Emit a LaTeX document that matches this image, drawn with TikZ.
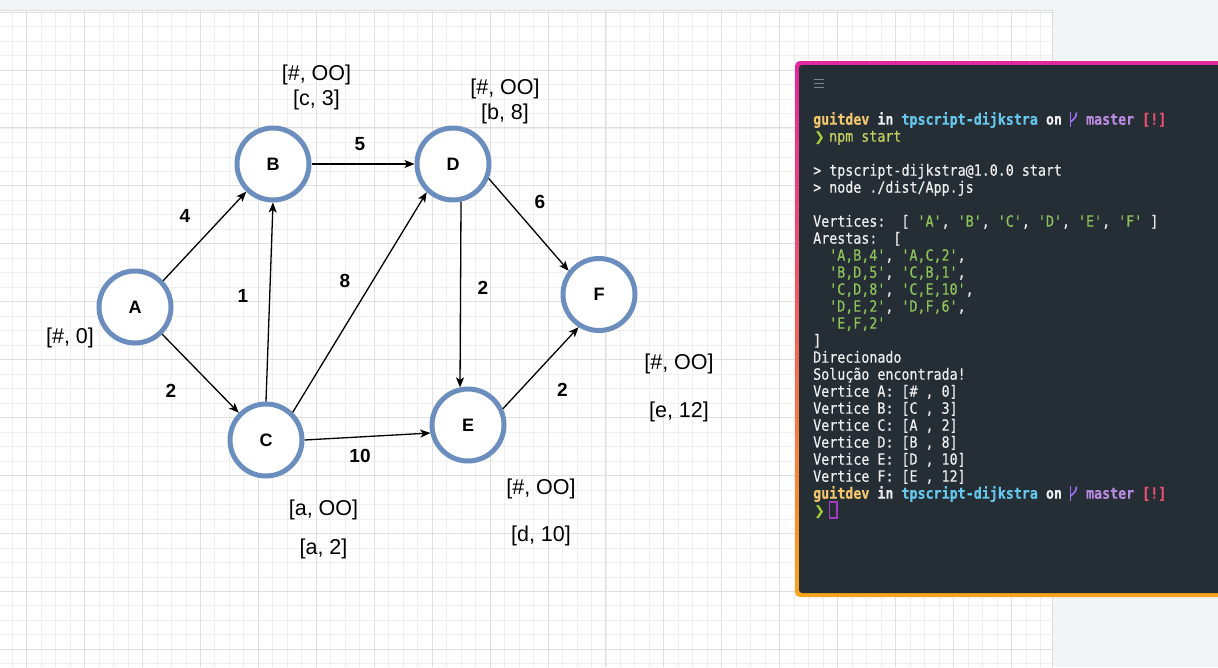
\documentclass[tikz,border=0pt]{standalone}
\usepackage{fontspec}
\setmonofont{DejaVu Sans Mono}[FakeStretch=0.86, FakeBold=0.4]
\newfontfamily\arial{Liberation Sans}
\newfontfamily\symfont{DejaVu Sans}
\usetikzlibrary{arrows.meta}

\definecolor{pagegray}{HTML}{F3F4F6}
\definecolor{edgegray}{HTML}{D9DBDF}
\definecolor{minorgrid}{HTML}{EFEFEF}
\definecolor{majorgrid}{HTML}{DFDFDF}
\definecolor{nodeblue}{HTML}{6C8EBF}
\definecolor{termbg}{HTML}{262E35}
\definecolor{termpink}{HTML}{E2269D}
\definecolor{termmid}{HTML}{EC5868}
\definecolor{termorange}{HTML}{F7A51C}
\definecolor{termfg}{HTML}{EEEEEE}
\definecolor{tyellow}{HTML}{F2C66D}
\definecolor{tblue}{HTML}{66C6EC}
\definecolor{tpurple}{HTML}{B98BE0}
\definecolor{ticon}{HTML}{9B6FF0}
\definecolor{tred}{HTML}{EF5271}
\definecolor{tchev}{HTML}{A8CF3A}
\definecolor{tlime}{HTML}{C2CF62}
\definecolor{tstr}{HTML}{8EC45B}
\definecolor{tcursor}{HTML}{A23CC0}
\definecolor{tmenu}{HTML}{7D858C}

\newcommand{\str}[1]{\textcolor{tstr}{#1}}

\tikzset{
  vtx/.style={circle, draw=nodeblue, fill=white, line width=5pt, minimum size=72pt,
    inner sep=0pt, font=\arial\bfseries\fontsize{18}{18}\selectfont},
  arc/.style={-{Stealth[length=10pt,width=8pt,inset=2.5pt]}, line width=1.3pt, black},
  wt/.style={inner sep=0pt, font=\arial\bfseries\fontsize{19}{19}\selectfont},
  cost/.style={inner sep=0pt, font=\arial\fontsize{21.5}{21.5}\selectfont},
  termline/.style={anchor=base west, inner sep=0pt, text=termfg,
    font=\ttfamily\fontsize{15.5}{17}\selectfont},
  chev/.style={anchor=base west, inner sep=0pt, text=tchev,
    font=\symfont\bfseries\fontsize{13}{17}\selectfont},
}

\begin{document}
\begin{tikzpicture}[x=1pt, y=-1pt]
\useasboundingbox (0,0) rectangle (1218,667);

% page and canvas
\fill[pagegray] (0,0) rectangle (1218,667);
\fill[white] (0,10) rectangle (1052,667);
\begin{scope}
  \clip (0,10) rectangle (1052,667);
  \foreach \k in {-2,...,72}
    \draw[minorgrid, line width=0.8pt] ({26.6+14.483*\k},10) -- ({26.6+14.483*\k},667);
  \foreach \k in {-1,...,46}
    \draw[minorgrid, line width=0.8pt] (0,{12.07+14.483*\k}) -- (1052,{12.07+14.483*\k});
  \foreach \k in {0,...,18}
    \draw[majorgrid, line width=0.9pt] ({26.6+57.93*\k},10) -- ({26.6+57.93*\k},667);
  \foreach \k in {0,...,11}
    \draw[majorgrid, line width=0.9pt] (0,{12.07+57.93*\k}) -- (1052,{12.07+57.93*\k});
\end{scope}
\draw[edgegray, line width=1pt] (0,10) -- (1052,10) -- (1052,667);

% graph vertices
\node[vtx] (A) at (135,307) {A};
\node[vtx] (B) at (273,164) {B};
\node[vtx] (C) at (266,440) {C};
\node[vtx] (D) at (453,164) {D};
\node[vtx] (E) at (468,425) {E};
\node[vtx] (F) at (599,294.5) {F};

% weighted directed edges
\draw[arc] (A.43) -- (B.226);
\draw[arc] (A.-45) -- (C.135);
\draw[arc] (B.0) -- (D.180);
\draw[arc] (C.90) -- (B.270);
\draw[arc] (C.46) -- (D.227);
\draw[arc] (C.0) -- (E.192);
\draw[arc] (D.-78) -- (E.102);
\draw[arc] (D.-22) -- (F.142);
\draw[arc] (E.25) -- (F.238);

\node[wt] (wAB) at (185,216) {4};
\node[wt] (wAC) at (171,390.5) {2};
\node[wt] (wBD) at (360,144) {5};
\node[wt] (wCB) at (243,296) {1};
\node[wt] (wCD) at (345,281) {8};
\node[wt] (wCE) at (360,456) {10};
\node[wt] (wDE) at (483,287.5) {2};
\node[wt] (wDF) at (540,202) {6};
\node[wt] (wEF) at (562.5,390) {2};

% distance labels
\node[cost] (lA) at (70,337.5) {[\#, 0]};
\node[cost] (lB1) at (316.5,75) {[\#, OO]};
\node[cost] (lB2) at (316.5,100) {[c, 3]};
\node[cost] (lD1) at (505,89) {[\#, OO]};
\node[cost] (lD2) at (505,114) {[b, 8]};
\node[cost] (lC1) at (323.5,509.5) {[a, OO]};
\node[cost] (lC2) at (323.5,549) {[a, 2]};
\node[cost] (lE1) at (541,488.5) {[\#, OO]};
\node[cost] (lE2) at (541,535.5) {[d, 10]};
\node[cost] (lF1) at (679,363.5) {[\#, OO]};
\node[cost] (lF2) at (679,412) {[e, 12]};

% terminal window
\shade[top color=termpink, middle color=termmid, bottom color=termorange, rounded corners=5pt]
  (795,61) rectangle (1230,597);
\fill[termbg, rounded corners=3pt] (799,65) rectangle (1230,593);
\foreach \yy in {79.5,83.4,87.3}
  \draw[tmenu, line width=1pt] (814,\yy) -- (824,\yy);

% prompt line 1
\node[termline] (t0) at (813,124.7) {\bfseries\textcolor{tyellow}{guitdev} in \textcolor{tblue}{tpscript-dijkstra} on\ \ \ \textcolor{tpurple}{master} \textcolor{tred}{[!]}};
\draw[ticon, line width=1.7pt] (1070.5,112) -- (1070.5,126.5);
\draw[ticon, line width=1.7pt] (1076.5,112.5) .. controls (1076.5,118) and (1073,119.5) .. (1070.5,122);
\node[chev] (c1) at (814,141.7) {❯};
\node[termline] (t1) at (829,141.7) {\textcolor{tlime}{npm start}};

\node[termline] (t3) at (813,175.7) {> tpscript-dijkstra@1.0.0 start};
\node[termline] (t4) at (813,192.7) {> node ./dist/App.js};

\node[termline] (t6) at (813,226.7) {Vertices:\ \ [ \str{'A'}, \str{'B'}, \str{'C'}, \str{'D'}, \str{'E'}, \str{'F'} ]};
\node[termline] (t7) at (813,243.7) {Arestas:\ \ [};
\node[termline] (t8) at (829,260.7) {\str{'A,B,4'}, \str{'A,C,2'},};
\node[termline] (t9) at (829,277.7) {\str{'B,D,5'}, \str{'C,B,1'},};
\node[termline] (t10) at (829,294.7) {\str{'C,D,8'}, \str{'C,E,10'},};
\node[termline] (t11) at (829,311.7) {\str{'D,E,2'}, \str{'D,F,6'},};
\node[termline] (t12) at (829,328.7) {\str{'E,F,2'}};
\node[termline] (t13) at (813,345.7) {]};
\node[termline] (t14) at (813,362.7) {Direcionado};
\node[termline] (t15) at (813,379.7) {Solução encontrada!};
\node[termline] (t16) at (813,396.7) {Vertice A: [\# , 0]};
\node[termline] (t17) at (813,413.7) {Vertice B: [C , 3]};
\node[termline] (t18) at (813,430.7) {Vertice C: [A , 2]};
\node[termline] (t19) at (813,447.7) {Vertice D: [B , 8]};
\node[termline] (t20) at (813,464.7) {Vertice E: [D , 10]};
\node[termline] (t21) at (813,481.7) {Vertice F: [E , 12]};

% prompt line 2
\node[termline] (t22) at (813,498.7) {\bfseries\textcolor{tyellow}{guitdev} in \textcolor{tblue}{tpscript-dijkstra} on\ \ \ \textcolor{tpurple}{master} \textcolor{tred}{[!]}};
\draw[ticon, line width=1.7pt] (1070.5,486) -- (1070.5,500.5);
\draw[ticon, line width=1.7pt] (1076.5,486.5) .. controls (1076.5,492) and (1073,493.5) .. (1070.5,496);
\node[chev] (c2) at (814,515.7) {❯};
\draw[tcursor, line width=1.2pt] (829.5,502) rectangle (837,518);
\end{tikzpicture}
\end{document}
